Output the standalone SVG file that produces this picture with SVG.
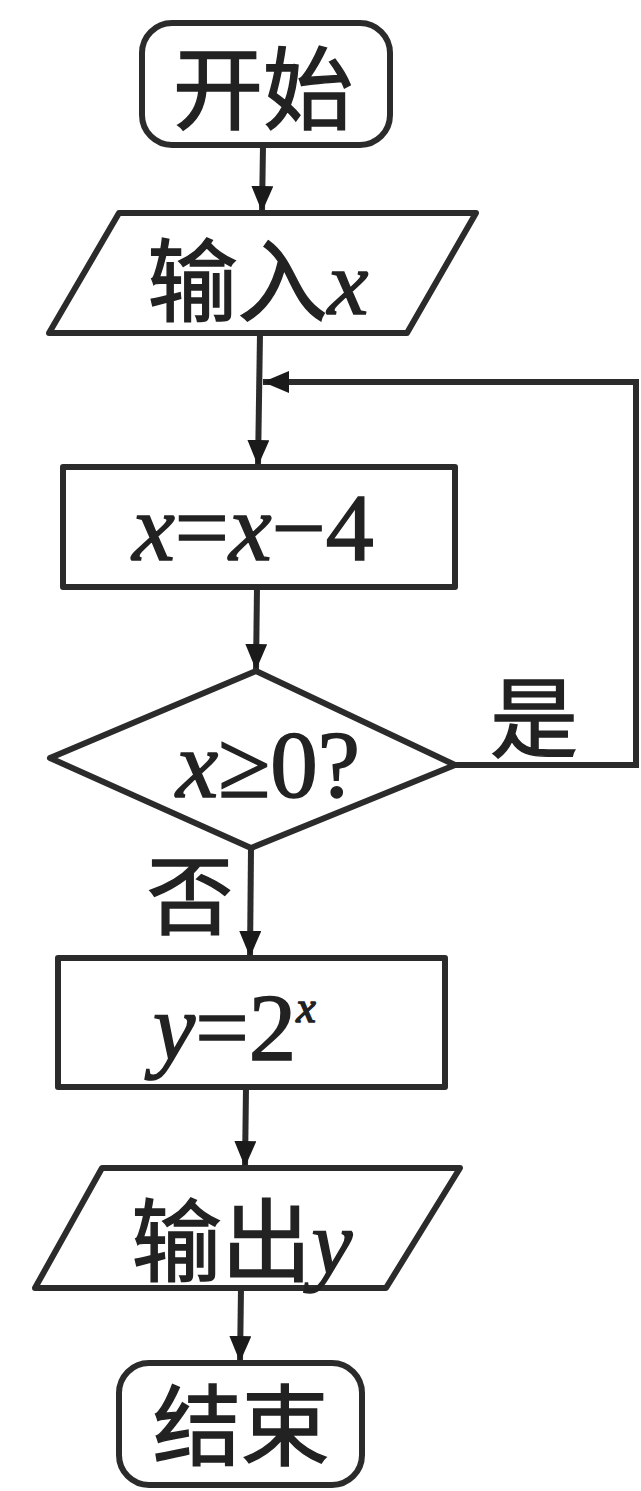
<svg xmlns="http://www.w3.org/2000/svg" width="641" height="1491" viewBox="0 0 641 1491">
<style>
.shape{fill:none;stroke:#2b2b2b;stroke-width:6;stroke-linejoin:round}
.conn{fill:none;stroke:#2b2b2b;stroke-width:6}
.cjk{font-family:"Noto Sans CJK SC","Noto Sans",sans-serif;fill:#222;stroke:#222;stroke-width:1.5}
.math{font-family:"Liberation Serif",serif;fill:#222;stroke:#222;stroke-width:1.5}
.it{font-style:italic}
</style>
<defs>
<marker id="arr" markerUnits="userSpaceOnUse" markerWidth="30" markerHeight="24" refX="26" refY="11" orient="auto">
<path d="M0,0 L26,11 L0,22 z" fill="#1a1a1a"/>
</marker>
</defs>
<rect width="641" height="1491" fill="#ffffff"/>
<g id="connectors">
<line class="conn" x1="263" y1="145" x2="262" y2="212" marker-end="url(#arr)"/>
<line class="conn" x1="260" y1="333" x2="258" y2="466" marker-end="url(#arr)"/>
<polyline class="conn" points="455,765 636,765 636,382 263,382" marker-end="url(#arr)"/>
<line class="conn" x1="257" y1="587" x2="256" y2="670" marker-end="url(#arr)"/>
<line class="conn" x1="251" y1="848" x2="250" y2="957" marker-end="url(#arr)"/>
<line class="conn" x1="246" y1="1087" x2="245" y2="1167" marker-end="url(#arr)"/>
<line class="conn" x1="241" y1="1288" x2="240" y2="1362" marker-end="url(#arr)"/>
</g>
<g id="start">
<rect class="shape" x="142" y="23" width="248" height="122" rx="30"/>
<text class="cjk" x="263" y="122" font-size="90" text-anchor="middle">开始</text>
</g>
<g id="input">
<polygon class="shape" points="119,213 476,213 407,333 49,333"/>
<text class="cjk" x="258" y="314" font-size="90" text-anchor="middle">输入<tspan class="math it" font-size="92">x</tspan></text>
</g>
<g id="update">
<rect class="shape" x="63" y="467" width="392" height="120"/>
<text class="math" x="253" y="560" font-size="96" text-anchor="middle"><tspan class="it">x</tspan>=<tspan class="it">x</tspan>−4</text>
</g>
<g id="decision">
<polygon class="shape" points="256,671 455,765 251,848 50,758"/>
<text class="math" x="268" y="797" font-size="95" text-anchor="middle"><tspan class="it">x</tspan>≥0?</text>
</g>
<g id="labels">
<text class="cjk" x="534" y="750" font-size="88" text-anchor="middle">是</text>
<text class="cjk" x="190" y="928" font-size="86" text-anchor="middle">否</text>
</g>
<g id="compute">
<rect class="shape" x="58" y="958" width="387" height="129"/>
<text class="math" x="153" y="1060" font-size="95"><tspan class="it">y</tspan>=2<tspan class="it" font-size="44" dy="-38">x</tspan></text>
</g>
<g id="output">
<polygon class="shape" points="102,1168 460,1168 386,1288 35,1288"/>
<text class="cjk" x="242" y="1274" font-size="90" text-anchor="middle">输出<tspan class="math it" font-size="92">y</tspan></text>
</g>
<g id="end">
<rect class="shape" x="119" y="1363" width="243" height="122" rx="30"/>
<text class="cjk" x="241" y="1458" font-size="88" text-anchor="middle">结束</text>
</g>
</svg>
